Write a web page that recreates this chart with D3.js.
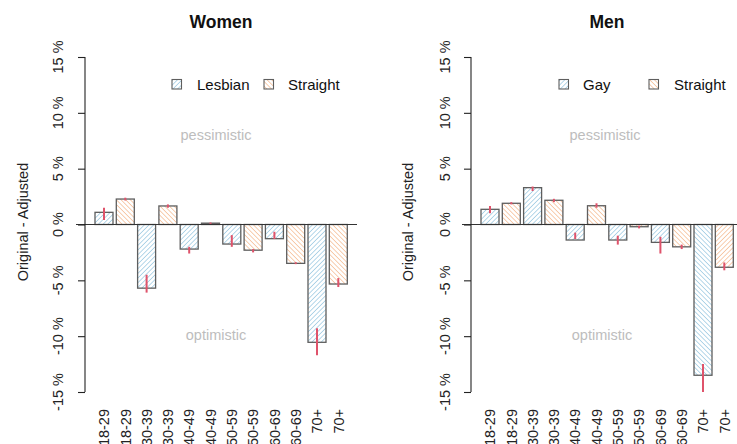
<!DOCTYPE html>
<html><head><meta charset="utf-8">
<script src="https://cdn.jsdelivr.net/npm/d3@7"></script>
<style>body{margin:0;background:#fff}svg{display:block;font-family:"Liberation Sans",Arial,sans-serif}</style>
</head><body><svg id="c" width="737" height="444"></svg>
<script>
const ageGroups = ["18-29","30-39","40-49","50-59","60-69","70+"];
const yTicks = [-15,-10,-5,0,5,10,15];
// Women
const lesbianVals   = [1.09, -5.70, -2.20, -1.75, -1.27, -10.55];
const lesbianLo     = [0.40, -6.10, -2.60, -2.00, -1.30, -11.70];
const lesbianHi     = [1.50, -4.50, -2.00, -0.95, -0.65, -9.30];
const straightWVals = [2.28, 1.66, 0.12, -2.30, -3.48, -5.33];
const straightWLo   = [2.15, 1.50, 0.05, -2.50, -3.55, -5.60];
const straightWHi   = [2.40, 1.80, 0.18, -2.20, -3.38, -4.80];
// Men
const gayVals       = [1.36, 3.30, -1.39, -1.39, -1.60, -13.50];
const gayLo         = [1.00, 3.00, -1.30, -1.80, -2.60, -15.00];
const gayHi         = [1.65, 3.40, -0.73, -1.00, -1.10, -12.50];
const straightMVals = [1.90, 2.17, 1.68, -0.20, -2.00, -3.83];
const straightMLo   = [1.80, 2.00, 1.50, -0.35, -2.20, -4.10];
const straightMHi   = [2.00, 2.30, 1.90, -0.10, -1.80, -3.40];

const svg = d3.select("#c");
const defs = svg.append("defs");
function hatch(id, color, angle){
  const p = defs.append("pattern").attr("id", id).attr("patternUnits","userSpaceOnUse")
    .attr("width", 3.3).attr("height", 3.3).attr("patternTransform", `rotate(${angle})`);
  p.append("line").attr("x1",0).attr("y1",-1).attr("x2",0).attr("y2",4.3)
    .attr("stroke", color).attr("stroke-width", 1.2);
}
const blueC = "#86bddb", orangeC = "#f3ae7c";
hatch("bR", blueC, 45); hatch("bL", blueC, -45);
hatch("oR", orangeC, 45); hatch("oL", orangeC, -45);

const panels = [
  {title:"Women", cx:221, axisX:85, zeroX:[76,357], r0:93.35, lab:58, ytitle:22,
   names:["Lesbian","Straight"], a:[lesbianVals,lesbianLo,lesbianHi], b:[straightWVals,straightWLo,straightWHi],
   pa:["bR","bR","bR","bR","bR","bR"], pb:["oL","oL","oL","oL","oL","oL"],
   legend:[{bx:172,tx:197,p:"bR"},{bx:264,tx:288,p:"oL"}], pess:216, opt:216},
  {title:"Men", cx:607, axisX:471, zeroX:[462,737], r0:479.35, lab:445, ytitle:407,
   names:["Gay","Straight"], a:[gayVals,gayLo,gayHi], b:[straightMVals,straightMLo,straightMHi],
   pa:["bR","bR","bR","bR","bR","bL"], pb:["oL","oL","oL","oL","oL","oR"],
   legend:[{bx:559,tx:583,p:"bR"},{bx:649,tx:674,p:"oL"}], pess:605, opt:602}
];

const y = d3.scaleLinear().domain([-15,15]).range([392,57]);
const fs = 14.5;

panels.forEach(P => {
  const g = svg.append("g");
  const bars = [];
  ageGroups.forEach((ag,i) => {
    bars.push({label:ag, v:P.a[0][i], lo:P.a[1][i], hi:P.a[2][i], pat:P.pa[i], key:"a"+i});
    bars.push({label:ag, v:P.b[0][i], lo:P.b[1][i], hi:P.b[2][i], pat:P.pb[i], key:"b"+i});
  });
  const x = d3.scaleBand().domain(bars.map(d=>d.key)).range([P.r0, P.r0 + 12*21.3])
    .paddingInner(0.155).paddingOuter(0.0775);

  // title
  g.append("text").attr("x",P.cx).attr("y",27.5).attr("text-anchor","middle")
    .attr("font-weight","bold").attr("font-size",17.5).attr("fill","#111").text(P.title);

  // bars
  g.selectAll("rect.bar").data(bars).join("rect").attr("class","bar")
    .attr("x", d=>x(d.key)).attr("width", x.bandwidth())
    .attr("y", d=>y(Math.max(0,d.v))).attr("height", d=>Math.abs(y(d.v)-y(0)))
    .attr("fill", d=>`url(#${d.pat})`).attr("stroke","#5e5e5e").attr("stroke-width",1.3);

  // zero line
  g.append("line").attr("x1",P.zeroX[0]).attr("x2",P.zeroX[1]).attr("y1",y(0)).attr("y2",y(0))
    .attr("stroke","#333").attr("stroke-width",1.1);

  // error bars
  g.selectAll("line.err").data(bars).join("line").attr("class","err")
    .attr("x1", d=>x(d.key)+x.bandwidth()/2).attr("x2", d=>x(d.key)+x.bandwidth()/2)
    .attr("y1", d=>y(d.lo)).attr("y2", d=>y(d.hi))
    .attr("stroke","#DF536B").attr("stroke-width",2);

  // y axis
  const ax = g.append("g").attr("transform",`translate(${P.axisX},0)`)
    .call(d3.axisLeft(y).tickValues(yTicks).tickSize(7).tickFormat(()=>""));
  ax.select(".domain").attr("d", `M0,${y(15)}V${y(-15)}`).attr("stroke","#222").attr("stroke-width",1.1);
  ax.selectAll(".tick line").attr("stroke","#222").attr("stroke-width",1.1);
  g.selectAll("text.yt").data(yTicks).join("text").attr("class","yt")
    .attr("transform", d=>`translate(${P.lab+5.2},${y(d)}) rotate(-90)`)
    .attr("text-anchor","middle").attr("font-size",fs).attr("fill","#222")
    .text(d=>d+" %");

  // y title
  g.append("text").attr("transform",`translate(${P.ytitle+5.5},222) rotate(-90)`)
    .attr("text-anchor","middle").attr("font-size",fs).attr("fill","#222").text("Original - Adjusted");

  // x labels
  g.selectAll("text.xl").data(bars).join("text").attr("class","xl")
    .attr("transform", d=>`translate(${x(d.key)+x.bandwidth()/2+5.2},409) rotate(-90)`)
    .attr("text-anchor","end").attr("font-size",fs).attr("fill","#222").text(d=>d.label);

  // pessimistic / optimistic
  g.append("text").attr("x",P.pess).attr("y",139.5).attr("text-anchor","middle")
    .attr("font-size",fs).attr("fill","#bdbdbd").text("pessimistic");
  g.append("text").attr("x",P.opt).attr("y",339.5).attr("text-anchor","middle")
    .attr("font-size",fs).attr("fill","#bdbdbd").text("optimistic");

  // legend
  P.legend.forEach((L,i)=>{
    g.append("rect").attr("x",L.bx).attr("y",79.5).attr("width",9.5).attr("height",9.5)
      .attr("fill",`url(#${L.p})`).attr("stroke","#5e5e5e").attr("stroke-width",1.1);
    g.append("text").attr("x",L.tx).attr("y",89.5).attr("font-size",fs+0.5).attr("fill","#111").text(P.names[i]);
  });
});
</script></body></html>
